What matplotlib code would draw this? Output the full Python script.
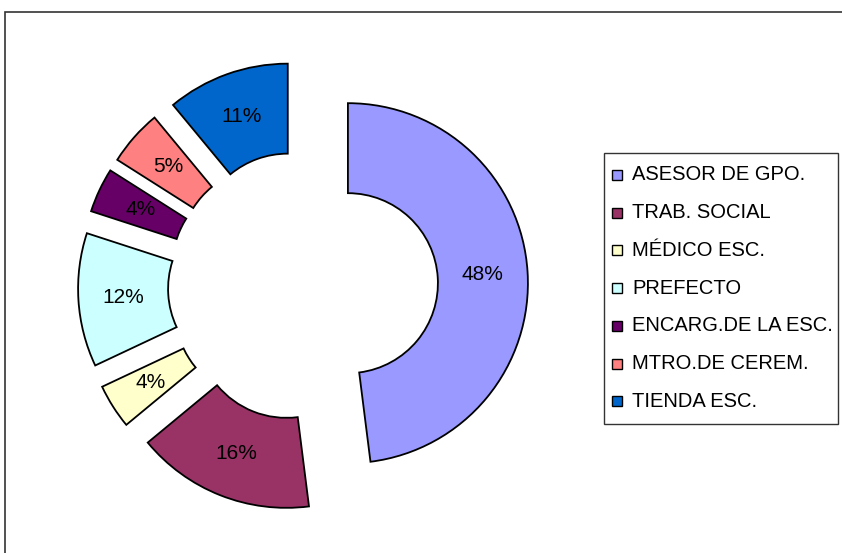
import matplotlib.pyplot as plt
from matplotlib.patches import Rectangle

plt.rcParams['font.family'] = ['Liberation Sans', 'DejaVu Sans']

categories = ['ASESOR DE GPO.', 'TRAB. SOCIAL', 'MÉDICO ESC.', 'PREFECTO',
              'ENCARG.DE LA ESC.', 'MTRO.DE CEREM.', 'TIENDA ESC.']
shares = [48, 16, 4, 12, 4, 5, 11]
colors = ['#9999FF', '#993366', '#FFFFCC', '#CCFFFF', '#660066', '#FF8080', '#0066CC']

W, H = 842, 553
fig = plt.figure(figsize=(W / 100, H / 100), dpi=100)
ax = fig.add_axes([0, 0, 1, 1])

# donut in pixel units, every slice pulled out from the centre
cx, cy = 303, H - 286
R = 180
wedges, texts, autotexts = ax.pie(
    shares, colors=colors, startangle=90, counterclock=False,
    center=(cx, cy), radius=R, explode=[45] * len(shares),
    wedgeprops=dict(width=90, edgecolor='black', linewidth=1.3),
    autopct='%d%%', pctdistance=0.75,
    textprops=dict(fontsize=15, color='black'))

ax.set_xlim(0, W)
ax.set_ylim(0, H)
ax.set_aspect('equal')
ax.axis('off')

# chart area border
ax.add_patch(Rectangle((5, -20), W + 20, H - 12 + 20, fill=False,
                       edgecolor='#333333', linewidth=1.2, clip_on=False))

# legend box
lx0, ly_top, lx1, ly_bot = 604, 153, 838, 424
ax.add_patch(Rectangle((lx0, H - ly_bot), lx1 - lx0, ly_bot - ly_top,
                       facecolor='white', edgecolor='#333333', linewidth=1.0))
row0, step = 175, 37.7
for i, (name, col) in enumerate(zip(categories, colors)):
    y = H - (row0 + i * step)
    ax.add_patch(Rectangle((612, y - 5), 10, 10, facecolor=col,
                           edgecolor='black', linewidth=1.0))
    ax.text(632, y, name, fontsize=14.5, va='center', ha='left')

fig.savefig('out.png', dpi=100)
